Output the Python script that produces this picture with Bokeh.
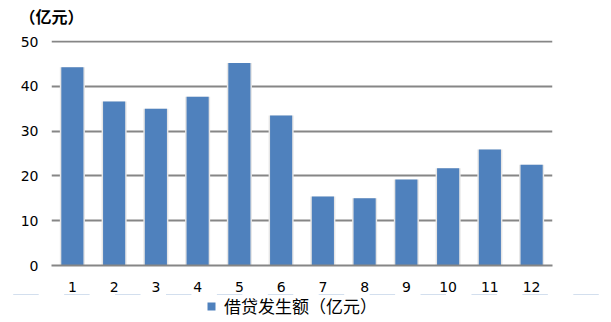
from bokeh.plotting import figure
from bokeh.layouts import column
from bokeh.models import Range1d, Legend, LegendItem, ColumnDataSource, Label
from bokeh.embed import file_html
from bokeh.resources import INLINE

months = [str(i) for i in range(1, 13)]
values = [44.3, 36.6, 35.0, 37.7, 45.2, 33.5, 15.4, 15.0, 19.2, 21.7, 25.9, 22.5]
yticks = [0, 10, 20, 30, 40, 50]
series_name = "借贷发生额（亿元）"
unit_label = "（亿元）"

BLUE = "#4f81bd"
GRID = "#868686"

src = ColumnDataSource(data=dict(x=months, top=values))


def strip(h):
    f = figure(width=611, height=h, x_range=Range1d(0, 1), y_range=Range1d(0, 1),
               output_backend="svg", toolbar_location=None, x_axis_type=None,
               y_axis_type=None, min_border=0, title=None)
    f.outline_line_color = None
    f.xgrid.visible = False
    f.ygrid.visible = False
    f.frame_align = False
    return f


# unit label strip on top
top = strip(30)
top.add_layout(Label(x=19, y=15, x_units="screen", y_units="screen", text=unit_label,
                     text_baseline="middle", text_font="Noto Sans CJK SC",
                     text_font_size="16px", text_font_style="bold", text_color="#000000"))

p = figure(width=611, height=264, x_range=months, y_range=Range1d(0, 50.25),
           output_backend="svg", toolbar_location=None, title=None,
           min_border_left=51, min_border_right=59, min_border_top=10, min_border_bottom=29)
p.outline_line_color = None
p.background_fill_color = "white"
p.frame_align = False

# soft shadow behind bars
p.vbar(x="x", top="top", width=0.6, source=src, fill_color="#e6e6e6", line_color=None)
p.vbar(x="x", top="top", width=0.53, source=src, fill_color=BLUE, line_color=None)

p.yaxis.ticker = yticks
p.yaxis.axis_line_color = None
p.yaxis.major_tick_line_color = None
p.yaxis.minor_tick_line_color = None
p.yaxis.major_label_text_font = "DejaVu Sans"
p.yaxis.major_label_text_font_size = "14px"
p.yaxis.major_label_text_color = "#000000"
p.yaxis.major_label_standoff = 7

p.xaxis.axis_line_color = GRID
p.xaxis.axis_line_width = 2
p.xaxis.major_tick_line_color = None
p.xaxis.minor_tick_line_color = None
p.xaxis.major_label_text_font = "DejaVu Sans"
p.xaxis.major_label_text_font_size = "14px"
p.xaxis.major_label_text_color = "#000000"
p.xaxis.major_label_standoff = 10

p.xgrid.grid_line_color = None
p.ygrid.grid_line_color = GRID
p.ygrid.grid_line_width = 2
p.ygrid.level = "underlay"

# legend strip below the chart (its swatch renderer draws zero-height bars out of view)
lg = figure(width=611, height=28, x_range=months, y_range=Range1d(-1000, -999),
            output_backend="svg", toolbar_location=None, x_axis_type=None, y_axis_type=None,
            min_border=0, title=None)
lg.outline_line_color = None
lg.xgrid.visible = False
lg.ygrid.visible = False
lg.frame_align = False
lr = lg.vbar(x="x", top="top", bottom="top", width=0.5, source=src,
             fill_color=BLUE, line_color=None)
legend = Legend(items=[LegendItem(label=series_name, renderers=[lr])],
                location=(206, 4), orientation="horizontal",
                label_text_font="Noto Sans CJK SC", label_text_font_size="17px",
                label_text_color="#000000", glyph_width=10, glyph_height=10,
                label_standoff=8,
                background_fill_alpha=0, border_line_color=None, padding=0, margin=0)
lg.add_layout(legend, "center")

layout = column(top, p, lg, spacing=0)
open("out.html", "w").write(file_html(layout, INLINE))
